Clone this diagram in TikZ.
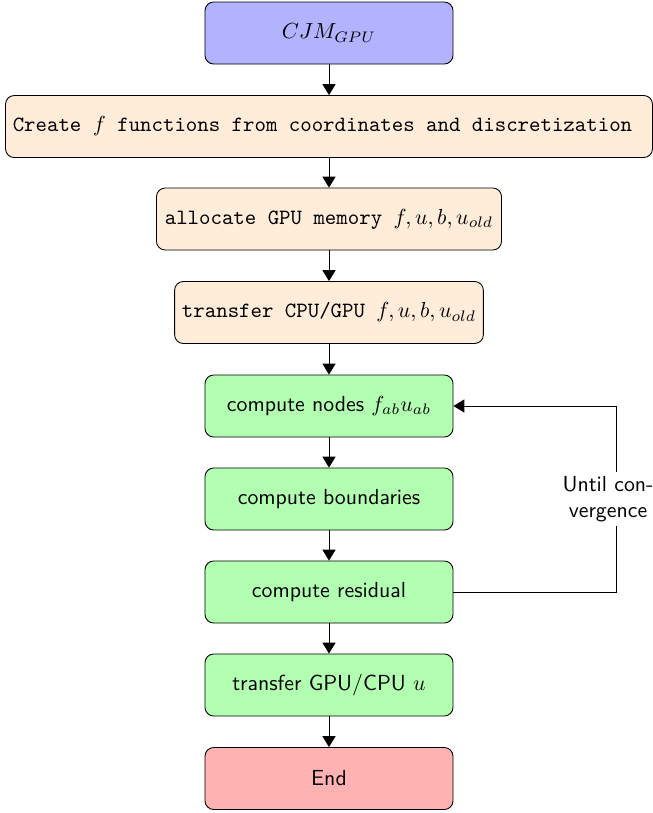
\documentclass[tikz,border=0pt]{standalone}
\usetikzlibrary{arrows.meta}
\definecolor{bluefill}{RGB}{178,178,255}
\definecolor{orangefill}{RGB}{255,236,217}
\definecolor{greenfill}{RGB}{178,255,178}
\definecolor{redfill}{RGB}{255,178,178}
\tikzset{
  box/.style={draw, rounded corners=4pt, minimum height=1cm, minimum width=4cm},
  startbox/.style={box, fill=bluefill},
  prepbox/.style={box, fill=orangefill, font=\ttfamily},
  loopbox/.style={box, fill=greenfill, font=\sffamily},
  endbox/.style={box, fill=redfill, font=\sffamily},
  arr/.style={-{Triangle[length=5pt,width=6pt]}},
  looplabel/.style={fill=white, align=center, font=\sffamily, inner sep=2pt}
}
\begin{document}
\begin{tikzpicture}[x=0.016129cm, y=-0.016129cm]
\useasboundingbox (0,0) rectangle (653,813);
\node[startbox] (cjm) at (329,33) {$CJM_{GPU}$};
\node[prepbox, minimum width=10.42cm] (create) at (329,126.5) {Create $f$ functions from coordinates and discretization\hbox to 6pt{}};
\node[prepbox, minimum width=5.565cm] (alloc) at (329,219) {allocate GPU memory $f,u,b,u_{old}$};
\node[prepbox, minimum width=4.98cm] (tcg) at (329,312.5) {transfer CPU/GPU $f,u,b,u_{old}$};
\node[loopbox] (nodes) at (329,406) {compute nodes $f_{ab}u_{ab}$};
\node[loopbox] (bound) at (329,499) {compute boundaries};
\node[loopbox] (resid) at (329,592) {compute residual};
\node[loopbox] (tgc) at (329,685) {transfer GPU/CPU $u$};
\node[endbox] (end) at (329,778.5) {End};
\draw[arr] (cjm) -- (create);
\draw[arr] (create) -- (alloc);
\draw[arr] (alloc) -- (tcg);
\draw[arr] (tcg) -- (nodes);
\draw[arr] (nodes) -- (bound);
\draw[arr] (bound) -- (resid);
\draw[arr] (resid) -- (tgc);
\draw[arr] (tgc) -- (end);
\coordinate (lr) at (616,592);
\coordinate (ur) at (616,406);
\draw[arr] (resid.east) -- (lr) -- (ur) -- (nodes.east);
\node[looplabel] (until) at (608,499) {Until con-\\vergence};
\end{tikzpicture}
\end{document}
